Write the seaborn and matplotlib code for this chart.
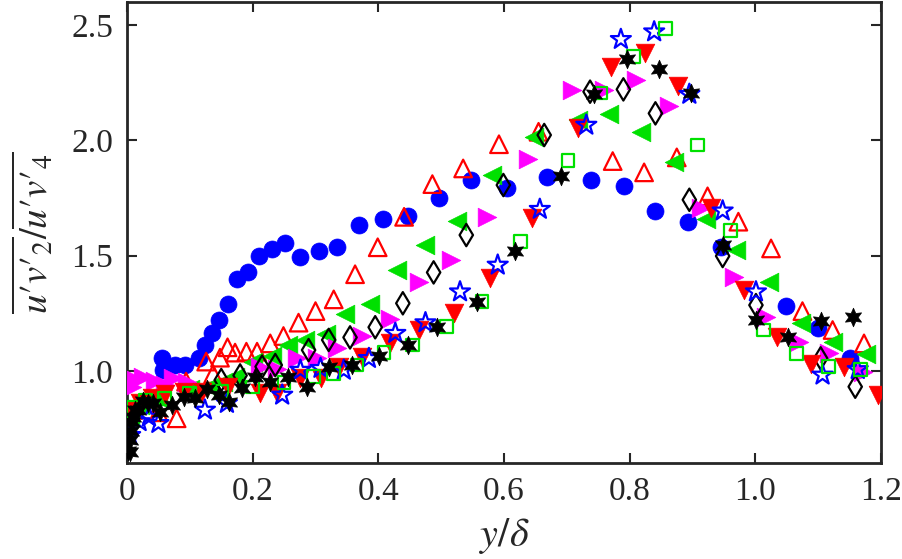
import matplotlib
matplotlib.use("Agg")
import matplotlib.pyplot as plt
import seaborn as sns

# ---- data (y/delta, ratio) ----
circ_x = [0.055, 0.058, 0.076, 0.092, 0.114, 0.124, 0.135, 0.147, 0.160, 0.175, 0.192, 0.210,
          0.231, 0.251, 0.276, 0.305, 0.334, 0.370, 0.407, 0.448, 0.496, 0.548, 0.605, 0.669,
          0.739, 0.791, 0.841, 0.893, 0.945, 1.049, 1.099, 1.151]
circ_y = [1.054, 1.003, 1.025, 1.025, 1.054, 1.112, 1.163, 1.220, 1.290, 1.397, 1.430, 1.500,
          1.530, 1.553, 1.495, 1.521, 1.538, 1.633, 1.659, 1.673, 1.748, 1.828, 1.792, 1.839,
          1.830, 1.800, 1.693, 1.647, 1.538, 1.281, 1.187, 1.054]

tri_up_x = [0.010, 0.030, 0.050, 0.079, 0.094, 0.126, 0.137, 0.148, 0.160, 0.172, 0.190, 0.207,
            0.228, 0.249, 0.273, 0.300, 0.329, 0.363, 0.399, 0.441, 0.486, 0.535, 0.592, 0.655,
            0.773, 0.823, 0.875, 0.924, 0.973, 1.025, 1.075, 1.123, 1.173]
tri_up_y = [0.830, 0.860, 0.820, 0.794, 0.953, 1.040, 0.986, 1.057, 1.102, 1.079, 1.083, 1.083,
            1.119, 1.151, 1.209, 1.259, 1.310, 1.419, 1.536, 1.668, 1.810, 1.878, 1.983, 2.037,
            1.910, 1.861, 1.926, 1.757, 1.647, 1.531, 1.259, 1.177, 1.119]

tri_left_x = [0.005, 0.020, 0.050, 0.100, 0.130, 0.153, 0.172, 0.201, 0.231, 0.257, 0.284, 0.316,
              0.347, 0.387, 0.430, 0.475, 0.525, 0.581, 0.647, 0.717, 0.767, 0.818, 0.871, 0.921,
              0.969, 1.022, 1.073, 1.123, 1.176]
tri_left_y = [0.800, 0.850, 0.880, 0.920, 0.930, 0.953, 0.974, 1.040, 1.064, 1.112, 1.134, 1.160,
              1.247, 1.288, 1.437, 1.546, 1.651, 1.849, 2.015, 2.088, 2.114, 2.034, 1.907, 1.657,
              1.524, 1.387, 1.206, 1.124, 1.073]

tri_right_x = [0.008, 0.015, 0.026, 0.045, 0.060, 0.074, 0.095, 0.212, 0.239, 0.270, 0.302, 0.334,
               0.374, 0.418, 0.464, 0.516, 0.573, 0.638, 0.709, 0.759, 0.810, 0.863, 0.913, 0.966,
               1.017, 1.070, 1.118, 1.171]
tri_right_y = [0.930, 0.960, 0.974, 0.957, 0.940, 0.967, 0.950, 1.018, 1.006, 1.054, 1.054, 1.098,
               1.151, 1.224, 1.387, 1.480, 1.668, 1.921, 2.218, 2.218, 2.262, 2.149, 1.705, 1.409,
               1.235, 1.127, 1.076, 0.996]

diam_x = [0.150, 0.180, 0.215, 0.236, 0.289, 0.321, 0.355, 0.395, 0.439, 0.488, 0.540, 0.599,
          0.664, 0.737, 0.790, 0.841, 0.895, 0.948, 1.001, 1.104, 1.159]
diam_y = [0.960, 0.980, 1.018, 1.025, 1.090, 1.134, 1.145, 1.189, 1.293, 1.427, 1.589, 1.806,
          2.023, 2.211, 2.221, 2.117, 1.742, 1.498, 1.285, 1.054, 0.931]

ast_x = [0.010, 0.050, 0.100, 0.177, 0.217, 0.345, 0.385, 0.427, 0.476, 0.592, 0.657, 0.731,
         0.788, 0.839, 0.892, 0.945, 0.999, 1.054, 1.107, 1.160]
ast_y = [0.800, 0.880, 0.900, 0.953, 0.996, 1.070, 1.102, 1.167, 1.236, 1.498, 1.715, 2.149,
         2.351, 2.377, 2.145, 1.640, 1.329, 1.134, 0.977, 1.000]

plus_x = [0.005, 0.020, 0.037, 0.070, 0.116, 0.177, 0.200, 0.240, 0.308, 0.435, 0.552, 0.610,
          0.678, 0.728, 0.779, 0.828, 0.880, 0.929, 0.982, 1.033, 1.083, 1.134, 1.184]
plus_y = [0.780, 0.800, 0.743, 0.800, 0.888, 0.859, 0.917, 0.900, 0.974, 1.090, 1.307, 1.538,
          1.878, 2.241, 2.364, 2.366, 1.809, 1.502, 1.336, 1.028, 0.996, 1.069, 1.199]

tri_down_x = [0.005, 0.020, 0.040, 0.060, 0.090, 0.120, 0.160, 0.212, 0.239, 0.276, 0.308, 0.337,
              0.374, 0.418, 0.464, 0.520, 0.578, 0.645, 0.718, 0.770, 0.824, 0.877, 0.929, 0.982,
              1.035, 1.088, 1.141, 1.195]
tri_down_y = [0.830, 0.860, 0.880, 0.900, 0.910, 0.910, 0.930, 0.902, 0.902, 0.967, 0.967, 1.018,
              1.061, 1.119, 1.177, 1.252, 1.401, 1.662, 2.055, 2.317, 2.377, 2.235, 1.705, 1.351,
              1.148, 1.028, 1.018, 0.895]

star_x = [0.005, 0.020, 0.035, 0.050, 0.124, 0.159, 0.247, 0.276, 0.308, 0.345, 0.385, 0.427,
          0.475, 0.530, 0.590, 0.657, 0.731, 0.786, 0.839, 0.895, 0.948, 1.001, 1.107, 1.163]
star_y = [0.720, 0.780, 0.800, 0.772, 0.830, 0.859, 0.895, 1.003, 1.011, 1.003, 1.054, 1.163,
          1.209, 1.343, 1.459, 1.701, 2.066, 2.438, 2.471, 2.200, 1.694, 1.343, 0.982, 1.006]

sq_x = [0.010, 0.030, 0.060, 0.100, 0.150, 0.200, 0.250, 0.297, 0.329, 0.366, 0.409, 0.454,
        0.509, 0.565, 0.626, 0.702, 0.754, 0.806, 0.857, 0.908, 0.960, 1.013, 1.065, 1.116, 1.168]
sq_y = [0.840, 0.870, 0.880, 0.900, 0.910, 0.930, 0.950, 0.974, 0.989, 1.025, 1.078, 1.112,
        1.194, 1.300, 1.560, 1.912, 2.205, 2.364, 2.486, 1.980, 1.609, 1.177, 1.076, 1.018, 1.006]

hex_x = [0.002, 0.004, 0.005, 0.006, 0.008, 0.010, 0.013, 0.018, 0.025, 0.034, 0.042, 0.053,
         0.071, 0.090, 0.108, 0.127, 0.146, 0.162, 0.183, 0.204, 0.228, 0.257, 0.286, 0.321,
         0.358, 0.401, 0.448, 0.494, 0.557, 0.618, 0.691, 0.743, 0.795, 0.847, 0.897, 0.949,
         1.001, 1.052, 1.104, 1.156]
hex_y = [0.650, 0.700, 0.649, 0.740, 0.780, 0.800, 0.830, 0.830, 0.870, 0.859, 0.860, 0.823,
         0.852, 0.888, 0.881, 0.920, 0.895, 0.866, 0.924, 0.974, 0.953, 0.974, 0.931, 1.018,
         1.025, 1.064, 1.112, 1.189, 1.300, 1.521, 1.845, 2.200, 2.351, 2.308, 2.205, 1.548,
         1.220, 1.145, 1.215, 1.235]

x_ticks = [0, 0.2, 0.4, 0.6, 0.8, 1.0, 1.2]
x_tick_labels = ["0", "0.2", "0.4", "0.6", "0.8", "1.0", "1.2"]
y_ticks = [1.0, 1.5, 2.0, 2.5]
y_tick_labels = ["1.0", "1.5", "2.0", "2.5"]

# (x, y, marker, colour, filled, size)
series = [
    (circ_x, circ_y, "o", "#0000ff", True, 150),
    (tri_up_x, tri_up_y, "^", "#ff0000", False, 160),
    (tri_left_x, tri_left_y, "<", "#00e000", True, 180),
    (tri_right_x, tri_right_y, ">", "#ff00ff", True, 180),
    (diam_x, diam_y, "d", "#000000", False, 130),
    (ast_x, ast_y, (8, 2, 0), "#00e5ff", False, 120),
    (plus_x, plus_y, "+", "#ff00ff", False, 140),
    (tri_down_x, tri_down_y, "v", "#ff0000", True, 180),
    (star_x, star_y, "*", "#0000ff", False, 230),
    (sq_x, sq_y, "s", "#00e000", False, 85),
    (hex_x, hex_y, (6, 1, 0), "#000000", True, 180),
]

sns.set_style("ticks")
plt.rcParams["font.family"] = ["Liberation Serif", "DejaVu Serif"]
plt.rcParams["mathtext.fontset"] = "stix"

fig = plt.figure(figsize=(9.02, 5.59), dpi=100)
ax = fig.add_axes([0.1408, 0.1717, 0.8359, 0.8247])

for x, y, marker, color, filled, size in series:
    if filled:
        sns.scatterplot(x=x, y=y, marker=marker, s=size, color=color,
                        edgecolor=color, linewidth=0.5, ax=ax, zorder=3)
    else:
        sns.scatterplot(x=x, y=y, marker=marker, s=size, color=color,
                        facecolor="none", edgecolor=color, linewidth=1.6,
                        ax=ax, zorder=3)

ax.set_xlim(0, 1.2)
ax.set_ylim(0.6, 2.6)
ax.set_xticks(x_ticks)
ax.set_xticklabels(x_tick_labels)
ax.set_yticks(y_ticks)
ax.set_yticklabels(y_tick_labels)
ax.tick_params(direction="in", length=7, width=1.5, top=True, right=True,
               labelsize=24, pad=10)
for sp in ax.spines.values():
    sp.set_linewidth(2)
    sp.set_visible(True)

ax.set_xlabel(r"$y/\delta$", fontsize=29, labelpad=6)
ax.set_ylabel("$\\overline{u\u2032v\u2032_2}/\\overline{u\u2032v\u2032_4}$", fontsize=28, labelpad=10)

fig.savefig("out.png", dpi=100)
